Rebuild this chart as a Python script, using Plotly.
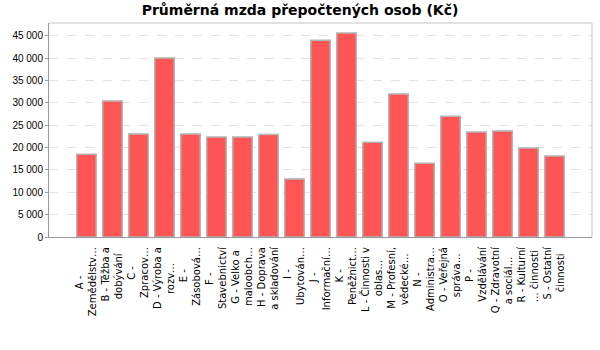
import unicodedata
import plotly.graph_objects as go

# Average wage of full-time-equivalent employees by CZ-NACE section
label_lines = [
    ("A -", "Zemědělstv…"),
    ("B - Těžba a", "dobývání"),
    ("C -", "Zpracov…"),
    ("D - Výroba a", "rozv…"),
    ("E -", "Zásobová…"),
    ("F -", "Stavebnictví"),
    ("G - Velko a", "maloobch…"),
    ("H - Doprava", "a skladování"),
    ("I -", "Ubytován…"),
    ("J -", "Informační…"),
    ("K -", "Peněžnict…"),
    ("L - Činnosti v", "oblas…"),
    ("M - Profesní,", "vědecké…"),
    ("N -", "Administra…"),
    ("O - Veřejná", "správa…"),
    ("P -", "Vzdělávání"),
    ("Q - Zdravotní", "a sociál…"),
    ("R - Kulturní", "… činnosti"),
    ("S - Ostatní", "činnosti"),
]
wages = [18500, 30400, 23000, 40000, 23000, 22350, 22350, 22900, 12950, 44000,
         45600, 21200, 31950, 16500, 27000, 23450, 23700, 19900, 18100]
y_ticks = [0, 5000, 10000, 15000, 20000, 25000, 30000, 35000, 40000, 45000]
y_tick_text = ["0", "5 000", "10 000", "15 000", "20 000", "25 000",
               "30 000", "35 000", "40 000", "45 000"]

# Approximate DejaVu Sans advance widths (em) used to centre the two lines of
# each rotated tick label (Plotly anchors rotated multi-line ticks at the end).
GLYPH_EM = {
    " ": 0.318, "\u00a0": 0.318, "-": 0.361, ".": 0.318, ",": 0.318, "…": 1.0,
    "a": 0.613, "b": 0.635, "c": 0.550, "d": 0.635, "e": 0.615, "f": 0.352,
    "g": 0.635, "h": 0.634, "i": 0.278, "j": 0.278, "k": 0.579, "l": 0.278,
    "m": 0.974, "n": 0.634, "o": 0.612, "p": 0.635, "r": 0.411, "s": 0.521,
    "t": 0.392, "u": 0.634, "v": 0.592, "w": 0.818, "y": 0.592, "z": 0.525,
    "A": 0.684, "B": 0.686, "C": 0.698, "D": 0.770, "E": 0.632, "F": 0.575,
    "G": 0.775, "H": 0.752, "I": 0.295, "J": 0.295, "K": 0.656, "L": 0.557,
    "M": 0.863, "N": 0.748, "O": 0.787, "P": 0.603, "Q": 0.787, "R": 0.695,
    "S": 0.635, "V": 0.684, "Z": 0.685,
}


def text_em(s):
    total = 0.0
    for ch in s:
        base = unicodedata.normalize("NFD", ch)[0]
        total += GLYPH_EM.get(ch, GLYPH_EM.get(base, 0.6))
    return total


def centred_label(lines):
    widest = max(text_em(l) for l in lines)
    out = []
    for l in lines:
        pad = int(round((widest - text_em(l)) / 2 / GLYPH_EM["\u00a0"]))
        out.append(l + "\u00a0" * pad)
    return "<br>".join(out)


tick_text = [centred_label(lines) for lines in label_lines]
positions = list(range(len(label_lines)))

fig = go.Figure(
    go.Bar(
        x=positions,
        y=wages,
        width=0.75,
        marker=dict(color="#ff5555", line=dict(color="#b4b4b4", width=1.5)),
        hoverinfo="y",
    )
)

fig.update_layout(
    width=600,
    height=350,
    margin=dict(l=49, r=8, t=23, b=113),
    paper_bgcolor="white",
    plot_bgcolor="white",
    showlegend=False,
    title=dict(
        text="<b>Průměrná mzda přepočtených osob (Kč)</b>",
        x=0.5,
        xref="container",
        xanchor="center",
        y=1 - 10 / 350,
        yref="container",
        yanchor="middle",
        font=dict(family="DejaVu Sans", size=14, color="#000"),
    ),
    xaxis=dict(
        range=[-1.44, 19.44],
        tickmode="array",
        tickvals=positions,
        ticktext=tick_text,
        tickangle=-90,
        ticks="",
        showgrid=False,
        zeroline=False,
        showline=True,
        linecolor="#999999",
        linewidth=1,
        tickfont=dict(family="DejaVu Sans", size=10, color="#000"),
        ticklabelstandoff=5,
    ),
    yaxis=dict(
        range=[0, 47840],
        tickmode="array",
        tickvals=y_ticks,
        ticktext=y_tick_text,
        ticks="outside",
        ticklen=3,
        tickcolor="#999999",
        showgrid=True,
        gridcolor="#e2e2e2",
        griddash="dash",
        gridwidth=1,
        zeroline=False,
        showline=True,
        linecolor="#999999",
        linewidth=1,
        tickfont=dict(family="Liberation Sans, Arial", size=10, color="#000"),
    ),
    shapes=[
        # light frame along the top and right edges of the plot area
        dict(type="line", xref="paper", yref="paper", x0=0, x1=1, y0=1, y1=1,
             line=dict(color="#c4c4c4", width=1)),
        dict(type="line", xref="paper", yref="paper", x0=1, x1=1, y0=0, y1=1,
             line=dict(color="#c4c4c4", width=1)),
    ],
)

fig.write_html("out.html")
